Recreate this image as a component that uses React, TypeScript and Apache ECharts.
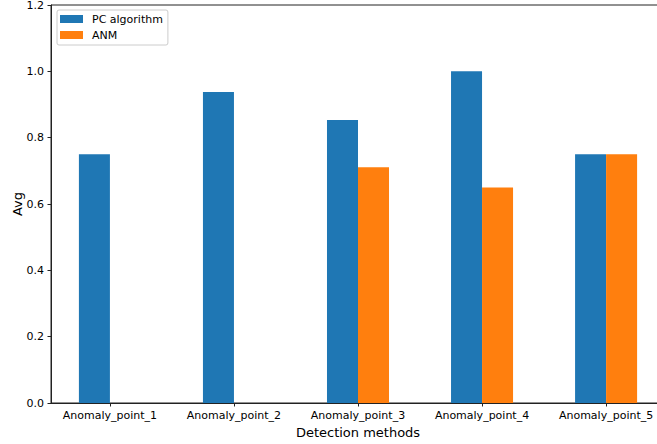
import React, { useEffect, useRef } from "react";
import * as echarts from "echarts";

const categories = [
  "Anomaly_point_1",
  "Anomaly_point_2",
  "Anomaly_point_3",
  "Anomaly_point_4",
  "Anomaly_point_5",
];
const pcValues = [0.75, 0.9375, 0.853, 1.0, 0.75];
const anmValues = [0, 0, 0.711, 0.65, 0.75];
const yTicks = [0, 0.2, 0.4, 0.6, 0.8, 1.0, 1.2];

const FONT = "DejaVu Sans";

export default function App() {
  const ref = useRef<HTMLDivElement>(null);

  useEffect(() => {
    if (!ref.current) return;
    const chart = echarts.init(ref.current, undefined, { renderer: "svg" });
    const positions = categories.map((_, i) => i);
    chart.setOption({
      animation: false,
      backgroundColor: "#ffffff",
      textStyle: { fontFamily: FONT },
      grid: {
        left: 51,
        right: -8,
        top: 5,
        bottom: 41,
        show: true,
        borderColor: "#222",
        borderWidth: 1,
        backgroundColor: "transparent",
        containLabel: false,
        outerBoundsMode: "none",
      },
      legend: {
        orient: "vertical",
        left: 57,
        top: 10,
        padding: [3, 5, 4, 3],
        itemGap: 4,
        itemWidth: 23,
        itemHeight: 8,
        icon: "rect",
        borderColor: "#cccccc",
        borderWidth: 1,
        borderRadius: 2,
        backgroundColor: "rgba(255,255,255,0.8)",
        textStyle: {
          fontFamily: FONT,
          fontSize: 11,
          color: "#000",
          lineHeight: 12,
          padding: [0, 0, 0, 4],
        },
        data: ["PC algorithm", "ANM"],
      },
      xAxis: {
        type: "value",
        min: -0.475,
        max: 4.475,
        name: "Detection methods",
        nameLocation: "middle",
        nameGap: 19,
        nameTextStyle: { fontFamily: FONT, fontSize: 13, color: "#000" },
        splitLine: { show: false },
        axisLine: { show: true, onZero: false, lineStyle: { color: "#222", width: 1 } },
        axisTick: {
          show: true,
          customValues: positions,
          length: 3.5,
          lineStyle: { color: "#222" },
        },
        axisLabel: {
          customValues: positions,
          margin: 7,
          fontFamily: FONT,
          fontSize: 11,
          color: "#000",
          formatter: (v: number) => categories[Math.round(v)] ?? "",
        },
      },
      yAxis: {
        type: "value",
        min: 0,
        max: 1.2,
        interval: 0.2,
        name: "Avg",
        nameLocation: "middle",
        nameGap: 27,
        nameMoveOverlap: false,
        nameTextStyle: { fontFamily: FONT, fontSize: 13, color: "#000" },
        splitLine: { show: false },
        axisLine: { show: true, onZero: false, lineStyle: { color: "#222", width: 1 } },
        axisTick: { show: true, length: 3.5, lineStyle: { color: "#222" } },
        axisLabel: {
          margin: 7,
          fontFamily: FONT,
          fontSize: 11,
          color: "#000",
          customValues: yTicks,
          formatter: (v: number) => v.toFixed(1),
        },
      },
      series: [
        {
          name: "PC algorithm",
          type: "bar",
          barWidth: "25%",
          barGap: "0%",
          itemStyle: { color: "#1f77b4" },
          data: pcValues.map((v, i) => [i, v]),
        },
        {
          name: "ANM",
          type: "bar",
          barWidth: "25%",
          barGap: "0%",
          itemStyle: { color: "#ff7f0e" },
          data: anmValues.map((v, i) => [i, v]),
        },
      ],
    });
    return () => chart.dispose();
  }, []);

  return (
    <div
      ref={ref}
      style={{ position: "fixed", left: 0, top: 0, width: 657, height: 444 }}
    />
  );
}
